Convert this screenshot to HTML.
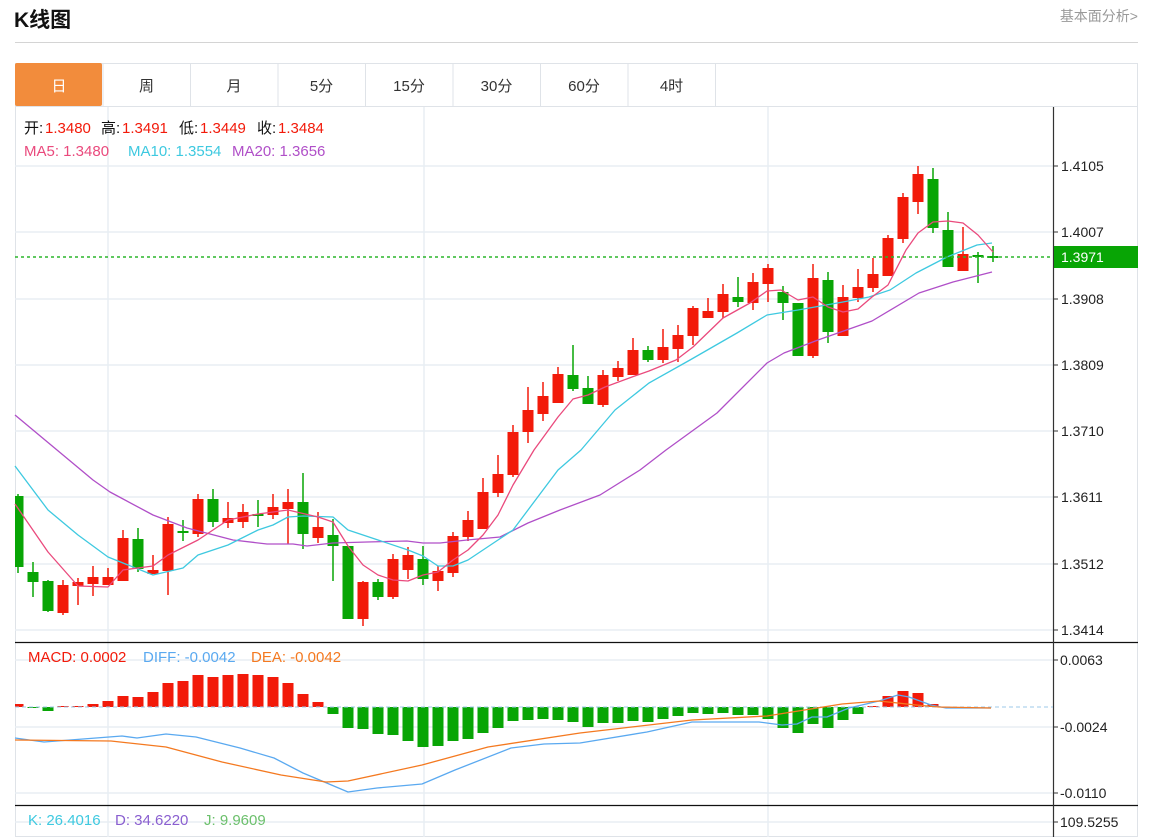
<!DOCTYPE html>
<html><head><meta charset="utf-8">
<style>
html,body{margin:0;padding:0;background:#fff;width:1166px;height:837px;overflow:hidden;font-family:"Liberation Sans","Noto Sans CJK SC",sans-serif;}
.t{position:absolute;white-space:nowrap}
</style></head><body>
<div class="t" style="left:14px;top:4px;font-size:21px;font-weight:bold;color:#111">K线图</div>
<div class="t" style="right:28px;top:6px;font-size:14px;color:#999">基本面分析&gt;</div>
<div style="position:absolute;left:15px;top:42px;width:1123px;height:1px;background:#d4d4d4"></div>
<svg id="s" width="1166" height="837" style="position:absolute;left:0;top:0" xmlns="http://www.w3.org/2000/svg" font-family="Liberation Sans, Noto Sans CJK SC, sans-serif"></svg>
<script>
var s='';
s+='<rect x="15.5" y="63.5" width="1122" height="773" fill="none" stroke="#dfe3e8"/>';
s+='<line x1="15" y1="106.5" x2="1138" y2="106.5" stroke="#dfe3e8"/>';
s+='<rect x="15" y="63" width="87" height="43" fill="#f28c3c" rx="2"/>';
var tabs=['日','周','月','5分','15分','30分','60分','4时'];
for(var i=0;i<8;i++){var x=15+87.5*i;
 if(i>0)s+='<line x1="'+(x+0.5)+'" y1="63" x2="'+(x+0.5)+'" y2="106" stroke="#dfe3e8"/>';
 s+='<text x="'+(x+44)+'" y="91" font-size="15" text-anchor="middle" fill="'+(i==0?'#fff':'#333')+'">'+tabs[i]+'</text>';}
s+='<line x1="715.5" y1="63" x2="715.5" y2="106" stroke="#dfe3e8"/>';
var gy=[166,232,299,365,431,497,564,630];
gy.forEach(function(y){s+='<line x1="15" y1="'+y+'" x2="1053" y2="'+y+'" stroke="#e8eef3" stroke-width="1.5"/>';});
[660,727,793,822].forEach(function(y){s+='<line x1="15" y1="'+y+'" x2="1053" y2="'+y+'" stroke="#e8eef3" stroke-width="1.5"/>';});
[108,424,768].forEach(function(x){s+='<line x1="'+x+'" y1="107" x2="'+x+'" y2="837" stroke="#e8eef3" stroke-width="1.5"/>';});
var C=[
['g',496,567,494,573],['g',572,582,562,597],['g',581,611,580,612],['r',585,613,580,615],['r',582,586,578,605],
['r',577,584,566,596],['r',577,585,568,585],['r',538,581,530,581],['g',539,569,528,572],['r',570,574,555,574],
['r',524,571,517,595],['g',531,533,520,541],['r',499,534,494,537],['g',499,522,489,527],['r',518,523,502,528],
['r',512,522,504,528],['g',514,516,500,527],['r',507,515,494,519],['r',502,509,489,544],['g',502,534,473,549],
['r',527,538,512,543],['g',535,546,519,581],['g',546,619,546,619],['r',582,619,581,626],['g',582,597,579,600],
['r',559,597,554,599],['r',555,570,547,579],['g',559,579,546,585],['r',571,581,566,591],['r',536,573,532,577],
['r',520,537,511,541],['r',492,529,478,529],['r',474,493,455,497],['r',432,475,425,477],['r',410,432,387,443],
['r',396,414,382,421],['r',374,403,367,403],['g',375,389,345,391],['g',388,404,376,404],['r',375,405,370,407],
['r',368,377,361,381],['r',350,375,338,375],['g',350,360,346,362],['r',347,360,329,363],['r',335,349,325,362],
['r',308,336,306,345],['r',311,318,298,318],['r',294,312,284,318],['g',297,302,277,307],['r',282,303,273,310],
['r',268,284,264,302],['g',292,303,286,320],['g',303,356,303,356],['r',278,356,264,358],['g',280,332,272,343],
['r',297,336,285,336],['r',287,298,269,302],['r',274,288,258,292],['r',238,276,235,276],['r',197,239,193,243],
['r',174,202,166,214],['g',179,228,168,233],['g',230,267,212,267],['r',254,271,227,271],['g',255,256,252,283],['g',256,257,246,262]];
var RED='#f21a0a',GRN='#08a505';
C.forEach(function(c,i){var x=18+15*i,col=c[0]=='r'?RED:GRN;
 s+='<line x1="'+x+'" y1="'+c[3]+'" x2="'+x+'" y2="'+c[4]+'" stroke="'+col+'" stroke-width="1.5"/>';
 var h=Math.max(c[2]-c[1],2);var l=Math.max(x-5.5,15);
 s+='<rect x="'+l+'" y="'+c[1]+'" width="'+(x+5.5-l)+'" height="'+h+'" fill="'+col+'"/>';});
function pl(p,col,w){return '<polyline fill="none" stroke="'+col+'" stroke-width="'+(w||1.3)+'" stroke-linejoin="round" points="'+p.map(function(a){return a.join(',')}).join(' ')+'"/>';}
var ma5=[[15,504],[48,552],[78,586],[108,587],[123,570],[153,566],[168,555],[198,540],[228,520],[258,514],[288,510],[318,517],[333,522],[348,546],[363,565],[378,575],[393,580],[408,581],[423,575],[438,572],[453,560],[468,550],[483,535],[498,515],[513,485],[534,450],[558,417],[573,399],[588,395],[605,387],[632,377],[649,371],[676,360],[693,347],[723,318],[750,303],[767,291],[781,290],[798,300],[813,297],[828,307],[843,312],[858,309],[872,297],[888,285],[906,250],[918,233],[933,222],[948,221],[963,223],[978,235],[993,252]];
var ma10=[[15,466],[48,510],[78,535],[108,557],[153,575],[183,568],[198,555],[228,545],[258,530],[273,525],[288,517],[303,516],[333,517],[348,530],[378,540],[408,550],[423,556],[438,566],[453,566],[468,560],[483,550],[498,540],[513,530],[528,510],[543,490],[558,470],[581,450],[615,410],[649,383],[690,360],[737,333],[767,315],[798,310],[843,302],[869,297],[890,290],[916,273],[947,257],[977,245],[992,243]];
var ma20=[[15,415],[57,450],[93,480],[110,492],[153,515],[187,528],[233,540],[267,544],[293,544],[307,546],[333,543],[367,542],[407,541],[423,543],[440,543],[467,540],[500,537],[528,523],[560,510],[600,495],[640,470],[666,450],[717,413],[767,363],[784,353],[818,340],[872,321],[919,293],[953,282],[992,272]];
s+=pl(ma20,'#b04fc8');s+=pl(ma10,'#3ec9e0');s+=pl(ma5,'#ea4a7d');
s+='<line x1="15" y1="257" x2="1053" y2="257" stroke="#2bb52b" stroke-width="1.5" stroke-dasharray="3,3"/>';
s+='<line x1="15" y1="642.5" x2="1138" y2="642.5" stroke="#111" stroke-width="1.3"/>';
s+='<line x1="15" y1="805.5" x2="1138" y2="805.5" stroke="#111" stroke-width="1.3"/>';
s+='<line x1="1053.5" y1="107" x2="1053.5" y2="837" stroke="#333" stroke-width="1.2"/>';
var pl2=['1.4105','1.4007','1.3908','1.3809','1.3710','1.3611','1.3512','1.3414'];
gy.forEach(function(y,i){s+='<line x1="1053" y1="'+y+'" x2="1058" y2="'+y+'" stroke="#333"/><text x="1061" y="'+(y+5)+'" font-size="14" fill="#222">'+pl2[i]+'</text>';});
s+='<rect x="1054" y="246" width="84" height="22" fill="#08a505"/><text x="1061" y="262" font-size="14" fill="#fff">1.3971</text>';
var M=[704,708,711,706,706,704,701,696,697,692,683,681,675,677,675,674,675,677,683,694,702,714,728,729,734,735,741,747,746,741,739,733,728,721,720,719,720,722,727,723,723,721,722,719,716,713,714,713,715,715,719,728,733,724,728,720,714,706,696,691,693,704,708];
var Z=707;
M.forEach(function(v,i){var x=18+15*i;var up=v<Z;var col=up?RED:GRN;var y=up?v:Z,h=Math.max(Math.abs(v-Z),1);
 var l=Math.max(x-5.5,15); s+='<rect x="'+l+'" y="'+y+'" width="'+(x+5.5-l)+'" height="'+h+'" fill="'+col+'"/>';});
s+='<line x1="15" y1="707" x2="1053" y2="707" stroke="#9cc8e8" stroke-width="1" stroke-dasharray="4,3"/>';
var dif=[[15,738],[44,742],[122,736],[137,738],[166,734],[196,737],[240,748],[274,758],[303,773],[348,792],[377,788],[422,784],[455,770],[511,748],[544,744],[580,743],[647,732],[692,722],[759,722],[782,725],[797,724],[812,717],[827,717],[849,708],[879,701],[898,695],[909,697],[931,705],[946,708],[991,708]];
var dea=[[15,740],[111,741],[166,747],[222,762],[281,775],[326,782],[348,781],[422,765],[488,747],[580,733],[692,720],[767,716],[842,704],[879,701],[916,705],[939,707],[991,708]];
s+=pl(dif,'#5aa9f0');s+=pl(dea,'#f47920');
[[660,'0.0063'],[727,'-0.0024'],[793,'-0.0110'],[822,'109.5255']].forEach(function(a){s+='<line x1="1053" y1="'+a[0]+'" x2="1058" y2="'+a[0]+'" stroke="#333"/><text x="1060" y="'+(a[0]+5)+'" font-size="14" fill="#222">'+a[1]+'</text>';});
function tx(x,y,t,c){s+='<text x="'+x+'" y="'+y+'" font-size="15" fill="'+c+'">'+t+'</text>';}
tx(24,133,'开:','#111');tx(45,133,'1.3480','#f21a0a');
tx(101,133,'高:','#111');tx(122,133,'1.3491','#f21a0a');
tx(179,133,'低:','#111');tx(200,133,'1.3449','#f21a0a');
tx(257,133,'收:','#111');tx(278,133,'1.3484','#f21a0a');
tx(24,156,'MA5: 1.3480','#ea4a7d');tx(128,156,'MA10: 1.3554','#3ec9e0');tx(232,156,'MA20: 1.3656','#b04fc8');
tx(28,662,'MACD: 0.0002','#f21a0a');tx(143,662,'DIFF: -0.0042','#5aa9f0');tx(251,662,'DEA: -0.0042','#f47920');
tx(28,825,'K: 26.4016','#3ec9e0');tx(115,825,'D: 34.6220','#8a5fd0');tx(204,825,'J: 9.9609','#6cc06c');
document.getElementById('s').innerHTML=s;
</script>
</body></html>
